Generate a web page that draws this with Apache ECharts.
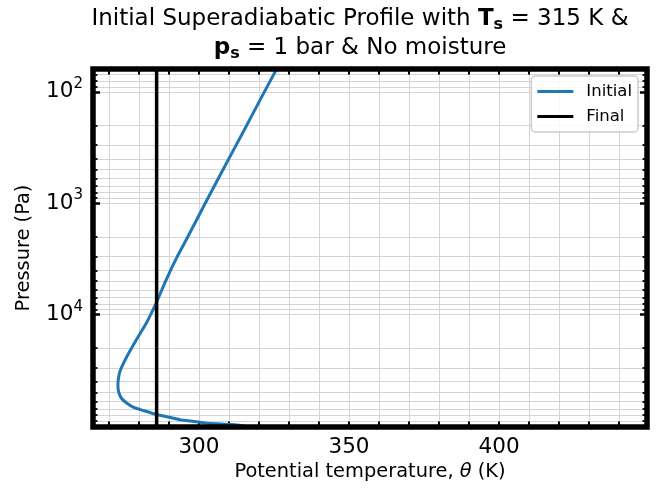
<!DOCTYPE html>
<html><head><meta charset="utf-8">
<script src="https://cdn.jsdelivr.net/npm/echarts@6/dist/echarts.min.js"></script>
<style>html,body{margin:0;padding:0;background:#fff}#c{width:671px;height:489px}</style>
</head><body><div id="c"></div>
<script>
// ---- data ----
const pressurePa   = [62.3, 100, 200, 500, 1000, 2000, 3000, 4923, 7709, 10000, 12000, 14730, 19000, 24000, 31600, 37000, 43000, 50000, 56900, 62000, 67600, 72500, 78800, 83000, 87700, 91000, 94200, 96800, 98500, 100000];
const thetaInitial = [325.9, 321.8, 315.9, 308.0, 302.1, 296.3, 292.8, 289.0, 285.9, 283.9, 282.4, 280.4, 278.0, 275.9, 273.8, 273.2, 273.0, 273.3, 274.3, 275.9, 278.1, 281.5, 285.9, 289.7, 293.7, 298.5, 302.6, 311.0, 313.5, 315.0];
const thetaFinal = 285.9;
const xRange = [264.7, 449.3];
const yRange = [62.3, 102000];
const xTickValues = [270, 280, 290, 300, 310, 320, 330, 340, 350, 360, 370, 380, 390, 400, 410, 420, 430, 440];
const xLabelValues = [300, 350, 400];
const yMajorValues = [100, 1000, 10000, 100000];
const yMinorValues = [70, 80, 90, 200, 300, 400, 500, 600, 700, 800, 900, 2000, 3000, 4000, 5000, 6000, 7000, 8000, 9000, 20000, 30000, 40000, 50000, 60000, 70000, 80000, 90000];
const yLabelValues = [100, 1000, 10000];
const seriesNames = ['Initial', 'Final'];
const xTitle = ['Potential temperature, ', 'θ', ' (K)'];
const yTitle = 'Pressure (Pa)';

// ---- chart ----
const FONT = 'DejaVu Sans';
const chart = echarts.init(document.getElementById('c'), null, {renderer: 'canvas'});

const initialData = pressurePa.map((p, i) => [thetaInitial[i], p]);
const finalData = [[thetaFinal, yRange[0]], [thetaFinal, yRange[1]]];

function xAxisDef(pos, withLabels) {
  return {
    type: 'value', position: pos, min: xRange[0], max: xRange[1],
    axisLine: {show: false},
    axisTick: {show: true, inside: true, length: 5.5, customValues: xTickValues, lineStyle: {color: '#000', width: 2}},
    axisLabel: withLabels ? {show: true, customValues: xLabelValues, fontSize: 21.5, fontFamily: FONT, color: '#000', margin: 9} : {show: false},
    splitLine: {show: false},
    name: withLabels ? '{n|' + xTitle[0] + '}{i|' + xTitle[1] + '}{n|' + xTitle[2] + '}' : '',
    nameLocation: 'middle', nameGap: 33,
    nameTextStyle: {
      fontFamily: FONT, fontSize: 19.4, color: '#000',
      rich: {n: {fontFamily: FONT, fontSize: 19.4, color: '#000'}, i: {fontFamily: FONT, fontSize: 19.4, fontStyle: 'italic', color: '#000'}}
    },
    z: 3
  };
}
function yAxisDef(pos, vals, len, width, withLabels) {
  return {
    type: 'log', logBase: 10, inverse: true, position: pos, min: yRange[0], max: yRange[1],
    axisLine: {show: false},
    axisTick: {show: true, inside: true, length: len, customValues: vals, lineStyle: {color: '#000', width: width}},
    axisLabel: withLabels ? {
      show: true, customValues: yLabelValues, margin: 10,
      formatter: v => '{b|10}{s|' + Math.round(Math.log10(v)) + '}',
      rich: {
        b: {fontSize: 21.5, fontFamily: FONT, color: '#000'},
        s: {fontSize: 15, fontFamily: FONT, color: '#000', padding: [0, 0, 16, 0]}
      }
    } : {show: false},
    splitLine: {show: false},
    name: withLabels ? yTitle : '',
    nameLocation: 'middle', nameGap: 60, nameRotate: 90,
    nameTextStyle: {fontFamily: FONT, fontSize: 19.4, color: '#000'},
    z: 3
  };
}

const titleRich = {
  n: {fontFamily: FONT, fontSize: 23, fill: '#000'},
  b: {fontFamily: FONT, fontSize: 23, fontWeight: 'bold', fill: '#000'},
  bs: {fontFamily: FONT, fontSize: 16, fontWeight: 'bold', fill: '#000', padding: [12, 0, 0, 0]}
};

const option = {
  animation: false,
  backgroundColor: '#fff',
  grid: {left: 93, right: 24, top: 69, bottom: 62, show: true, z: 10, backgroundColor: 'transparent', borderColor: '#000', borderWidth: 5.5},
  xAxis: [xAxisDef('bottom', true), xAxisDef('top', false)],
  yAxis: [
    yAxisDef('left', yMajorValues, 7, 2.5, true),
    yAxisDef('left', yMinorValues, 4.5, 1.8, false),
    yAxisDef('right', yMajorValues, 7, 2.5, false),
    yAxisDef('right', yMinorValues, 4.5, 1.8, false)
  ],
  legend: {
    data: seriesNames, orient: 'vertical', right: 33, top: 76, z: 8,
    icon: 'rect', itemWidth: 36, itemHeight: 3, itemGap: 8,
    padding: [7, 6, 7, 6],
    textStyle: {fontFamily: FONT, fontSize: 16.5, color: '#000', padding: [0, 0, 0, 8]},
    backgroundColor: 'rgba(255,255,255,0.85)', borderColor: '#cccccc', borderWidth: 1.5, borderRadius: 4
  },
  graphic: [
    {type: 'text', x: 360, y: 19, z: 20, style: {
      text: '{n|Initial Superadiabatic Profile with }{b|T}{bs|s}{n| = 315 K &}',
      align: 'center', verticalAlign: 'middle', rich: titleRich
    }},
    {type: 'text', x: 360, y: 48, z: 20, style: {
      text: '{b|p}{bs|s}{n| = 1 bar & No moisture}',
      align: 'center', verticalAlign: 'middle', rich: titleRich
    }}
  ],
  series: [
    {
      type: 'line', name: '__grid', xAxisIndex: 0, yAxisIndex: 0, data: [], z: 1, silent: true,
      markLine: {
        silent: true, z: 1, symbol: ['none', 'none'], label: {show: false}, animation: false,
        lineStyle: {color: '#d4d4d4', width: 1, type: 'solid'},
        emphasis: {disabled: true},
        data: xTickValues.map(v => ({xAxis: v})).concat(yMinorValues.concat(yMajorValues).map(v => ({yAxis: v})))
      }
    },
    {
      type: 'line', name: seriesNames[0], xAxisIndex: 0, yAxisIndex: 0, data: initialData,
      showSymbol: false, smooth: 0.25, z: 4,
      lineStyle: {color: '#1f77b4', width: 3}, itemStyle: {color: '#1f77b4'}
    },
    {
      type: 'line', name: seriesNames[1], xAxisIndex: 0, yAxisIndex: 0, data: finalData,
      showSymbol: false, z: 5,
      lineStyle: {color: '#000', width: 3.5}, itemStyle: {color: '#000'}
    }
  ]
};
chart.setOption(option);
</script></body></html>
